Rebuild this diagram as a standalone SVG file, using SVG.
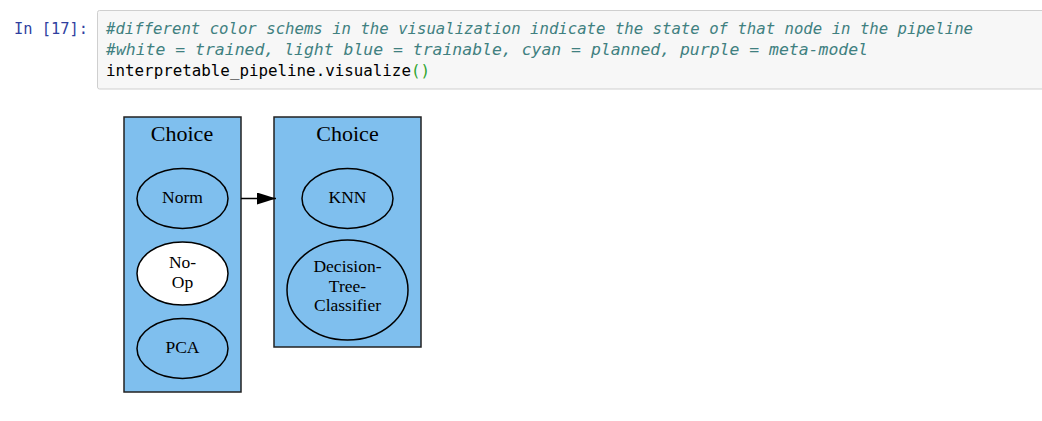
<svg xmlns="http://www.w3.org/2000/svg" width="1042" height="421" viewBox="0 0 1042 421">
<style>
.prompt{font-family:"DejaVu Sans Mono","Liberation Mono",monospace;font-size:15px;fill:#303f9f}
.code{font-family:"DejaVu Sans Mono","Liberation Mono",monospace;font-size:15.5px}
.cmt{fill:#408080;font-style:italic}
.cluster{fill:#7fbfee;stroke:#222;stroke-width:1.5}
.node{fill:#7fbfee;stroke:#000;stroke-width:1.5}
.white{fill:#ffffff}
.ctitle{font-family:"Liberation Serif","Times New Roman",serif;font-size:22px;fill:#000;text-anchor:middle}
.lbl{font-family:"Liberation Serif","Times New Roman",serif;font-size:17.5px;fill:#000;text-anchor:middle}
</style>
<defs>
<marker id="arr" markerWidth="19" markerHeight="12" refX="19" refY="6" orient="auto" markerUnits="userSpaceOnUse" viewBox="0 0 19 12">
<path d="M0,0 L19,6 L0,12 z" fill="#000"/>
</marker>
</defs>
<rect width="1042" height="421" fill="#ffffff"/>
<g id="cell">
<rect x="97.5" y="10.5" width="950" height="78.5" rx="2" fill="#f7f7f7" stroke="#cfcfcf" stroke-width="1"/>
<text class="prompt" x="14" y="34" textLength="74" lengthAdjust="spacingAndGlyphs">In [17]:</text>
<text class="code cmt" x="106" y="34" textLength="867" lengthAdjust="spacingAndGlyphs">#different color schems in the visualization indicate the state of that node in the pipeline</text>
<text class="code cmt" x="106" y="55" textLength="762" lengthAdjust="spacingAndGlyphs">#white = trained, light blue = trainable, cyan = planned, purple = meta-model</text>
<text class="code" x="106" y="76" textLength="324" lengthAdjust="spacingAndGlyphs">interpretable_pipeline.visualize<tspan fill="#2fa52f">()</tspan></text>
</g>
<g id="cluster1">
<rect class="cluster" x="124" y="117" width="117" height="275"/>
<text class="ctitle" x="182" y="141">Choice</text>
</g>
<g id="cluster2">
<rect class="cluster" x="274" y="117" width="147" height="230"/>
<text class="ctitle" x="347.5" y="141">Choice</text>
</g>
<g id="norm">
<ellipse class="node" cx="182.5" cy="198.5" rx="45.5" ry="30"/>
<text class="lbl" x="182.5" y="203">Norm</text>
</g>
<g id="noop">
<ellipse class="node white" cx="182.5" cy="273.5" rx="45.5" ry="31.5"/>
<text class="lbl" x="182.5" y="268">No-</text>
<text class="lbl" x="182.5" y="287.5">Op</text>
</g>
<g id="pca">
<ellipse class="node" cx="182.5" cy="348.5" rx="45.5" ry="30"/>
<text class="lbl" x="182.5" y="353">PCA</text>
</g>
<g id="knn">
<ellipse class="node" cx="347.5" cy="198.5" rx="45.5" ry="30"/>
<text class="lbl" x="347.5" y="203">KNN</text>
</g>
<g id="dtc">
<ellipse class="node" cx="347.5" cy="290" rx="60.5" ry="50"/>
<text class="lbl" x="347.5" y="272">Decision-</text>
<text class="lbl" x="347.5" y="291.5">Tree-</text>
<text class="lbl" x="347.5" y="311">Classifier</text>
</g>
<g id="connectors">
<line x1="241" y1="198.5" x2="276" y2="198.5" stroke="#000" stroke-width="1.5" marker-end="url(#arr)"/>
</g>
</svg>
